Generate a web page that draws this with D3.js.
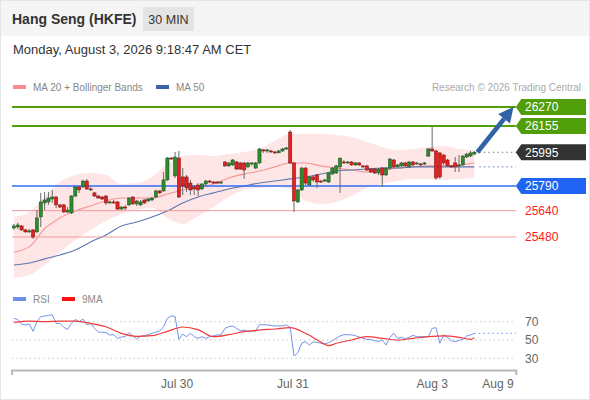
<!DOCTYPE html>
<html>
<head>
<meta charset="utf-8">
<script src="https://cdn.jsdelivr.net/npm/d3@7"></script>
<style>
  body { margin: 0; background: #fff; }
  svg { display: block; font-family: "Liberation Sans", Arial, sans-serif; }
</style>
</head>
<body>
<div id="chart"></div>
<script>
// ---- data ----
const candleOpen = [
  25535, 25541, 25547, 25523, 25511, 25523, 25511, 25602, 25687, 25693,
  25711, 25723, 25675, 25675, 25632, 25626, 25729, 25784, 25784, 25820,
  25772, 25748, 25729, 25723, 25729, 25687, 25693, 25693, 25650, 25662,
  25675, 25723, 25681, 25675, 25705, 25699, 25705, 25723, 25760, 25760,
  25827, 25960, 25851, 25960, 25845, 25845, 25808, 25784, 25796, 25772,
  25802, 25820, 25814, 25814, 25808, 25936, 25912, 25918, 25936, 25930,
  25930, 25906, 25924, 25899, 25930, 26009, 26003, 26003, 25997, 25991,
  26003, 26015, 26118, 25930, 25693, 25766, 25899, 25796, 25845, 25857,
  25820, 25820, 25814, 25863, 25869, 25906, 25936, 25930, 25936, 25918,
  25930, 25912, 25912, 25893, 25893, 25869, 25899, 25857, 25899, 25948,
  25906, 25912, 25930, 25906, 25936, 25924, 25924, 25924, 25972, 26015,
  26003, 25991, 25978, 25948, 25912, 25930, 25912, 25918, 25966, 25972,
  25984
];
const candleHigh = [
  25559, 25566, 25553, 25529, 25529, 25529, 25644, 25748, 25754, 25754,
  25766, 25729, 25681, 25681, 25662, 25735, 25790, 25790, 25827, 25833,
  25784, 25754, 25735, 25729, 25735, 25699, 25705, 25699, 25669, 25675,
  25723, 25729, 25705, 25705, 25711, 25717, 25723, 25766, 25766, 25875,
  25966, 25966, 25997, 26003, 25899, 25857, 25827, 25796, 25808, 25808,
  25827, 25827, 25820, 25820, 25820, 25942, 25936, 25954, 25942, 25936,
  25936, 25936, 25936, 25936, 26021, 26015, 26015, 26009, 26003, 26009,
  26021, 26027, 26130, 25936, 25772, 25906, 25906, 25851, 25857, 25863,
  25827, 25833, 25875, 25906, 25918, 25960, 25948, 25942, 25942, 25936,
  25936, 25918, 25918, 25899, 25899, 25899, 25906, 25906, 25960, 25954,
  25924, 25936, 25936, 25942, 25942, 25936, 25930, 25936, 26021, 26148,
  26009, 25997, 25984, 25954, 25918, 25966, 25978, 25978, 25991, 26003,
  26003
];
const candleLow = [
  25523, 25529, 25517, 25505, 25505, 25468, 25505, 25541, 25644, 25675,
  25687, 25656, 25656, 25626, 25626, 25620, 25723, 25748, 25778, 25766,
  25760, 25723, 25711, 25705, 25675, 25681, 25681, 25644, 25644, 25644,
  25669, 25675, 25669, 25669, 25681, 25693, 25699, 25717, 25741, 25754,
  25820, 25948, 25839, 25717, 25735, 25754, 25735, 25735, 25729, 25766,
  25790, 25808, 25802, 25802, 25802, 25906, 25906, 25912, 25887, 25887,
  25833, 25899, 25912, 25893, 25924, 25991, 25991, 25991, 25984, 25991,
  25997, 26009, 25924, 25632, 25687, 25760, 25796, 25790, 25814, 25778,
  25808, 25814, 25808, 25857, 25863, 25748, 25924, 25924, 25912, 25912,
  25912, 25899, 25881, 25869, 25863, 25857, 25784, 25851, 25887, 25899,
  25906, 25906, 25906, 25899, 25912, 25918, 25912, 25918, 25966, 25997,
  25827, 25833, 25918, 25906, 25899, 25875, 25875, 25912, 25960, 25966,
  25978
];
const candleClose = [
  25547, 25553, 25523, 25511, 25517, 25480, 25596, 25693, 25705, 25717,
  25723, 25675, 25662, 25632, 25644, 25729, 25784, 25766, 25820, 25772,
  25766, 25729, 25717, 25711, 25687, 25693, 25687, 25650, 25662, 25656,
  25717, 25681, 25699, 25693, 25687, 25711, 25717, 25760, 25748, 25827,
  25960, 25954, 25966, 25723, 25790, 25778, 25766, 25772, 25766, 25802,
  25820, 25814, 25808, 25808, 25814, 25912, 25930, 25948, 25893, 25893,
  25887, 25930, 25930, 25930, 26015, 26003, 26009, 25997, 25991, 26003,
  26015, 26021, 25930, 25699, 25766, 25899, 25808, 25845, 25827, 25814,
  25814, 25827, 25869, 25899, 25912, 25960, 25930, 25936, 25918, 25930,
  25918, 25906, 25887, 25875, 25869, 25893, 25857, 25899, 25954, 25906,
  25918, 25930, 25912, 25936, 25918, 25930, 25918, 25930, 26015, 26003,
  25839, 25845, 25930, 25912, 25906, 25906, 25918, 25972, 25984, 25991,
  25995
];

// moving averages and bands, read every 4th bar
const maIdx = [0, 4, 8, 12, 16, 20, 24, 28, 32, 36, 40, 44, 48, 52, 56, 60,
  64, 68, 72, 76, 80, 84, 88, 92, 96, 100, 104, 108, 112, 116, 120];
const ma20 = [25389, 25420, 25530, 25596, 25638, 25669, 25699, 25717, 25717, 25717,
  25741, 25766, 25778, 25802, 25839, 25863, 25881, 25906, 25930, 25930,
  25912, 25899, 25887, 25875, 25887, 25899, 25906, 25912, 25912, 25918, 25930];
const ma50 = [25310, 25322, 25347, 25371, 25401, 25450, 25492, 25547, 25571, 25602,
  25638, 25687, 25723, 25748, 25772, 25790, 25808, 25820, 25833, 25845,
  25863, 25881, 25887, 25893, 25899, 25899, 25906, 25906, 25906, 25906, 25906];
const bbUpper = [25602, 25632, 25723, 25814, 25857, 25869, 25857, 25802, 25808, 25845,
  25924, 25972, 25978, 25972, 25984, 25997, 26015, 26063, 26106, 26106,
  26106, 26100, 26088, 26057, 26027, 26009, 26015, 26027, 26033, 26015, 26009];
const bbLower = [25231, 25249, 25310, 25389, 25462, 25523, 25577, 25620, 25644, 25656,
  25596, 25559, 25608, 25662, 25723, 25766, 25778, 25784, 25772, 25699,
  25681, 25693, 25729, 25778, 25802, 25820, 25833, 25833, 25827, 25833, 25839];

// RSI per bar
const rsi = [
  73.6, 72.5, 67.5, 66.4, 67.5, 59.5, 70, 75.5, 76.2, 76.9,
  77.6, 68.2, 68.2, 63.8, 61.6, 68.2, 72.5, 70, 72.9, 66.7,
  68.2, 62.7, 58.7, 58.4, 58, 55.5, 55.8, 51.8, 53.3, 53.6,
  58, 54.7, 51.1, 54, 54.7, 55.8, 57.3, 58.7, 59.8, 64.5,
  73.6, 76.2, 75.8, 50.7, 56.5, 53.6, 57.3, 53.6, 51.8, 53.6,
  51.8, 53.6, 54.7, 55.5, 55.5, 62.7, 64.5, 65.3, 62.7, 60.2,
  60.9, 59.5, 60.2, 59.5, 66.7, 66.7, 66.4, 66, 65.3, 65.3,
  65.6, 66.4, 63.8, 32.5, 36.2, 46.4, 48.2, 44.5, 47.8, 47.5,
  46.4, 45.6, 47.1, 49.3, 51.8, 54.4, 55.8, 55.8, 55.5, 54.7,
  53.3, 51.8, 50.7, 50.4, 49.3, 48.5, 50, 44.5, 52.9, 57.3,
  51.8, 52.9, 51.5, 52.9, 55.1, 53.6, 53.6, 53.6, 53.6, 62.7,
  63.5, 46.4, 55.5, 52.9, 49.3, 48.2, 49.6, 50.7, 54.4, 55.5,
  57.3
];
const rsiMaIdx = [0, 4, 8, 12, 16, 20, 24, 28, 32, 36, 40, 44, 48, 52, 56, 60, 64,
  68, 72, 76, 80, 82, 84, 88, 92, 96, 100, 104, 108, 112, 116, 119, 120];
const rsiMa = [69.3, 70.7, 70, 70.7, 70.7, 68.2, 64.5, 57.3, 54, 54.7, 59.5, 64.2,
  61.3, 53.6, 55.8, 59.1, 60.9, 62, 63.5, 57.3, 47.8, 43.8, 46.4, 50, 53.6,
  51.8, 50, 51.8, 53.6, 54.4, 52.9, 50.7, 52.5];

// price levels (right side tags)
const levels = [26270, 26155, 25995, 25790, 25640, 25480];
const levelKinds = ["res", "res", "last", "sup", "sup2", "sup2"];
const rsiTicks = [30, 50, 70];

// x axis labels (bar positions)
const dayTicks = [42.4, 72.6, 108.9, 126];
const dayLabels = ["Jul 30", "Jul 31", "Aug 3", "Aug 9"];

const W = 590, H = 400;
const LEFT = 11.6, RIGHT = 515.8;

const svg = d3.select("#chart").append("svg")
  .attr("width", W).attr("height", H);

// frame + header
svg.append("rect").attr("x", 0.5).attr("y", 0.5).attr("width", W - 1).attr("height", H - 1)
  .attr("fill", "#fff").attr("stroke", "#e6e6e6");
svg.append("rect").attr("x", 1).attr("y", 1).attr("width", W - 2).attr("height", 35)
  .attr("fill", "#f5f5f5");
svg.append("text").attr("x", 12).attr("y", 24)
  .attr("font-size", 14).attr("font-weight", "bold").attr("fill", "#333")
  .text("Hang Seng (HKFE)");
svg.append("rect").attr("x", 143).attr("y", 7).attr("width", 51).attr("height", 24)
  .attr("fill", "#e4e4e4");
svg.append("text").attr("x", 168.5).attr("y", 23.5).attr("text-anchor", "middle")
  .attr("font-size", 12.5).attr("fill", "#333").text("30 MIN");
svg.append("text").attr("x", 13).attr("y", 53.5)
  .attr("font-size", 13).attr("fill", "#333")
  .text("Monday, August 3, 2026 9:18:47 AM CET");

// legends
function legendItem(x, y, color, label) {
  svg.append("rect").attr("x", x).attr("y", y - 2).attr("width", 13).attr("height", 4)
    .attr("fill", color);
  svg.append("text").attr("x", x + 20).attr("y", y + 3.6)
    .attr("font-size", 10).attr("fill", "#888").text(label);
}
legendItem(13, 87, "#ff8a8a", "MA 20 + Bollinger Bands");
legendItem(156, 87, "#3d62a3", "MA 50");
svg.append("text").attr("x", 581).attr("y", 90.6).attr("text-anchor", "end")
  .attr("font-size", 10).attr("fill", "#aaa").text("Research \u00a9 2026 Trading Central");
legendItem(13, 299, "#6f8fe6", "RSI");
legendItem(62, 299, "#ff1010", "9MA");

// scales
const x = d3.scaleLinear().domain([-0.6, 130.8]).range([LEFT, RIGHT]);
const y = d3.scaleLinear().domain([25480, 26270]).range([237, 107]);
const ry = d3.scaleLinear().domain([30, 70]).range([358.3, 321.7]);

// bollinger band + MAs
const bandData = maIdx.map((d, i) => ({ i: d, up: bbUpper[i], lo: bbLower[i] }));
svg.append("path").datum(bandData)
  .attr("fill", "#fee6e6")
  .attr("d", d3.area().curve(d3.curveMonotoneX)
    .x(d => x(d.i)).y0(d => y(d.lo)).y1(d => y(d.up)));

const lineIdx = (vals) => d3.line().curve(d3.curveMonotoneX)
  .x((d, i) => x(maIdx[i])).y(d => y(d))(vals);
svg.append("path").attr("d", lineIdx(ma20))
  .attr("fill", "none").attr("stroke", "#f59595").attr("stroke-width", 1.1);
svg.append("path").attr("d", lineIdx(ma50))
  .attr("fill", "none").attr("stroke", "#5a78b0").attr("stroke-width", 1.1);

// level lines
const lastI = candleClose.length - 1;
levels.forEach((v, k) => {
  const kind = levelKinds[k];
  if (kind === "res") {
    svg.append("line").attr("x1", 12).attr("x2", RIGHT).attr("y1", y(v)).attr("y2", y(v))
      .attr("stroke", "#4f9e0a").attr("stroke-width", 2);
  } else if (kind === "sup") {
    svg.append("line").attr("x1", 12).attr("x2", RIGHT).attr("y1", y(v)).attr("y2", y(v))
      .attr("stroke", "#2f6cf5").attr("stroke-width", 1.3);
  } else if (kind === "sup2") {
    svg.append("line").attr("x1", 12).attr("x2", RIGHT).attr("y1", y(v)).attr("y2", y(v))
      .attr("stroke", "#f39a9a").attr("stroke-width", 1);
  } else {
    svg.append("line").attr("x1", x(lastI) + 5).attr("x2", RIGHT).attr("y1", y(v)).attr("y2", y(v))
      .attr("stroke", "#777").attr("stroke-width", 1).attr("stroke-dasharray", "1.5,3");
  }
});
// MA50 extension
svg.append("line").attr("x1", x(lastI) + 5).attr("x2", RIGHT)
  .attr("y1", y(ma50[ma50.length - 1])).attr("y2", y(ma50[ma50.length - 1]))
  .attr("stroke", "#5a78b0").attr("stroke-width", 1).attr("stroke-dasharray", "1.5,3");

// candles
const candles = candleClose.map((c, i) => ({
  i, o: candleOpen[i], h: candleHigh[i], l: candleLow[i], c
}));
const cg = svg.append("g");
cg.selectAll("line.wick").data(candles).enter().append("line")
  .attr("class", "wick")
  .attr("x1", d => x(d.i)).attr("x2", d => x(d.i))
  .attr("y1", d => y(d.h)).attr("y2", d => y(d.l))
  .attr("stroke", "#6a6a6a").attr("stroke-width", 1);
cg.selectAll("rect.body").data(candles).enter().append("rect")
  .attr("class", "body")
  .attr("x", d => x(d.i) - 1.6).attr("width", 3.2)
  .attr("y", d => y(Math.max(d.o, d.c)))
  .attr("height", d => Math.max(1, Math.abs(y(d.o) - y(d.c))))
  .attr("fill", d => d.c >= d.o ? "#2d8a2d" : "#e42020")
  .attr("stroke", d => d.c >= d.o ? "#1d4f1d" : "#7a1010")
  .attr("stroke-width", 0.5);

// arrow from last close toward the first target
const ax0 = x(lastI) + 3, ay0 = y(candleClose[lastI]);
const ax1 = x(130.2), ay1 = y(levels[0]);
const ang = Math.atan2(ay1 - ay0, ax1 - ax0);
const headL = 15, headW = 7.5;
const bx = ax1 - headL * Math.cos(ang), by = ay1 - headL * Math.sin(ang);
svg.append("line").attr("x1", ax0).attr("y1", ay0).attr("x2", bx).attr("y2", by)
  .attr("stroke", "#2f62a6").attr("stroke-width", 4.5);
svg.append("path")
  .attr("d", `M${ax1},${ay1}L${bx + headW * Math.sin(ang)},${by - headW * Math.cos(ang)}` +
    `L${bx - headW * Math.sin(ang)},${by + headW * Math.cos(ang)}Z`)
  .attr("fill", "#2f62a6");

// level tags
const tagColor = { res: "#4f9e0a", last: "#333", sup: "#1f64f2" };
levels.forEach((v, k) => {
  const kind = levelKinds[k];
  const yy = y(v);
  if (tagColor[kind]) {
    svg.append("path")
      .attr("d", `M${RIGHT},${yy}L${RIGHT + 5.5},${yy - 8}L586,${yy - 8}L586,${yy + 8}L${RIGHT + 5.5},${yy + 8}Z`)
      .attr("fill", tagColor[kind]);
    svg.append("text").attr("x", 525).attr("y", yy + 4.3)
      .attr("font-size", 12).attr("fill", "#fff").text(v);
  } else {
    svg.append("text").attr("x", 525).attr("y", yy + 4.3)
      .attr("font-size", 12).attr("fill", "#ff1a1a").text(v);
  }
});

// RSI panel
rsiTicks.forEach(t => {
  svg.append("line").attr("x1", 12).attr("x2", RIGHT).attr("y1", ry(t)).attr("y2", ry(t))
    .attr("stroke", "#b0b0b0").attr("stroke-width", 1).attr("stroke-dasharray", "1,3.5");
});
svg.append("path")
  .attr("d", d3.line().x((d, i) => x(i)).y(d => ry(d))(rsi))
  .attr("fill", "none").attr("stroke", "#7393ea").attr("stroke-width", 1);
svg.append("path")
  .attr("d", d3.line().curve(d3.curveMonotoneX).x((d, i) => x(rsiMaIdx[i])).y(d => ry(d))(rsiMa))
  .attr("fill", "none").attr("stroke", "#f03a3a").attr("stroke-width", 1.2);
svg.append("line").attr("x1", x(lastI)).attr("x2", RIGHT)
  .attr("y1", ry(rsi[lastI])).attr("y2", ry(rsi[lastI]))
  .attr("stroke", "#7393ea").attr("stroke-width", 1).attr("stroke-dasharray", "1.5,3");

const rAxis = svg.append("g").attr("transform", "translate(522,0)")
  .call(d3.axisRight(ry).tickValues(rsiTicks).tickSize(0).tickPadding(3));
rAxis.select(".domain").remove();
rAxis.selectAll("text").attr("font-size", 12).attr("fill", "#666")
  .attr("font-family", "Liberation Sans, Arial, sans-serif");

// x axis
const xAxis = svg.append("g").attr("transform", "translate(0,370)")
  .call(d3.axisBottom(x).tickValues(dayTicks).tickFormat((d, i) => dayLabels[i])
    .tickSizeInner(0).tickSizeOuter(5).tickPadding(9));
xAxis.select(".domain").attr("stroke", "#b8b8b8").attr("stroke-width", 2);
xAxis.selectAll("text").attr("font-size", 12).attr("fill", "#666")
  .attr("font-family", "Liberation Sans, Arial, sans-serif");
</script>
</body>
</html>
